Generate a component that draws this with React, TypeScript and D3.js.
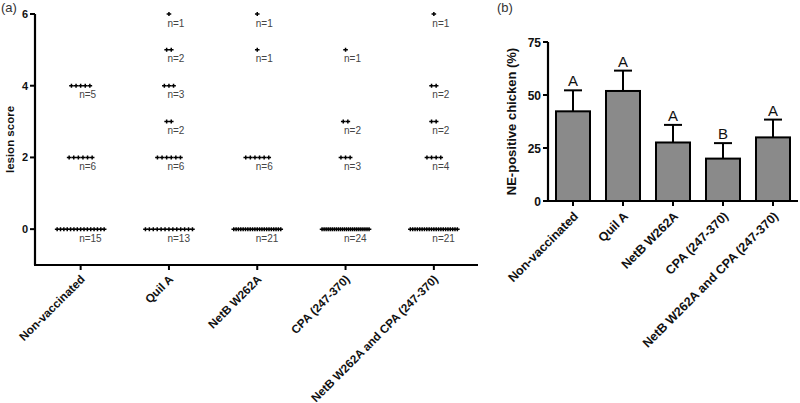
import React from "react";
import * as d3 from "d3";

// ---------- Data ----------
const groups = [
  "Non-vaccinated",
  "Quil A",
  "NetB W262A",
  "CPA (247-370)",
  "NetB W262A and CPA (247-370)",
];

// Lesion score distributions: [score, count] per group
const lesionNonVaccinated: [number, number][] = [[0, 15], [2, 6], [4, 5]];
const lesionQuilA: [number, number][] = [[0, 13], [2, 6], [3, 2], [4, 3], [5, 2], [6, 1]];
const lesionNetB: [number, number][] = [[0, 21], [2, 6], [5, 1], [6, 1]];
const lesionCPA: [number, number][] = [[0, 24], [2, 3], [3, 2], [5, 1]];
const lesionCombined: [number, number][] = [[0, 21], [2, 4], [3, 2], [4, 2], [6, 1]];
const lesionByGroup = [lesionNonVaccinated, lesionQuilA, lesionNetB, lesionCPA, lesionCombined];

const lesionTicks = [0, 2, 4, 6];

// NE-positive percentages and SE
const nePositive = [42.3, 51.9, 27.6, 20.0, 30.0];
const neError = [9.9, 9.6, 8.3, 7.3, 8.4];
const neLetters = ["A", "A", "A", "B", "A"];
const neTicks = [0, 25, 50, 75];

const FONT = "'Liberation Sans', Arial, Helvetica, sans-serif";

export default function App() {
  // Panel (a)
  const xA = d3.scaleBand<string>().domain(groups).range([36.5, 478]).padding(0);
  const yA = d3.scaleLinear().domain([-1, 6]).range([265, 14]);
  const axisYA = yA(-1);

  // Panel (b)
  const xB = d3.scaleBand<string>().domain(groups).range([548, 798]).paddingInner(0.32).paddingOuter(0.16);
  const yB = d3.scaleLinear().domain([0, 75]).range([201, 42]);

  const cross = (cx: number, cy: number, k: string) => (
    <path
      key={k}
      d={`M${cx - 2.3},${cy}H${cx + 2.3}M${cx},${cy - 2}V${cy + 2}`}
      stroke="#000"
      strokeWidth={1.5}
      fill="none"
    />
  );

  return (
    <svg width={800} height={403} style={{ position: "absolute", left: 0, top: 0, background: "#fff" }} fontFamily={FONT}>
      {/* ---------- Panel (a) ---------- */}
      <text x={1} y={12} fontSize={13} fill="#333">(a)</text>
      <text
        transform={`translate(14,${(14 + axisYA) / 2}) rotate(-90)`}
        textAnchor="middle"
        fontSize={11.5}
        fontWeight="bold"
        fill="#111"
      >
        lesion score
      </text>
      {/* axes */}
      <line x1={35} x2={35} y1={14} y2={axisYA} stroke="#000" strokeWidth={2.2} />
      <line x1={34} x2={478} y1={axisYA} y2={axisYA} stroke="#000" strokeWidth={2.2} />
      {lesionTicks.map((t) => (
        <g key={"ya" + t}>
          <line x1={30} x2={35} y1={yA(t)} y2={yA(t)} stroke="#000" strokeWidth={2} />
          <text x={28} y={yA(t) + 4} textAnchor="end" fontSize={11} fontWeight="bold" fill="#111">
            {t}
          </text>
        </g>
      ))}
      {groups.map((g) => {
        const cx = xA(g)! + xA.bandwidth() / 2;
        return (
          <g key={"xa" + g}>
            <line x1={cx} x2={cx} y1={axisYA} y2={axisYA + 5} stroke="#000" strokeWidth={2} />
            <text
              transform={`translate(${cx + 5},${axisYA + 15}) rotate(-45)`}
              textAnchor="end"
              fontSize={11.7}
              fontWeight="bold"
              fill="#111"
            >
              {g}
            </text>
          </g>
        );
      })}
      {/* scatter points */}
      {groups.map((g, gi) => {
        const cx = xA(g)! + xA.bandwidth() / 2;
        return lesionByGroup[gi].map(([score, count]) => {
          const y = yA(score);
          const step = count > 1 ? Math.min(4.6, 47 / (count - 1)) : 0;
          const pts = d3.range(count).map((i) => cx + (i - (count - 1) / 2) * step);
          return (
            <g key={`p${gi}-${score}`}>
              {pts.map((px, i) => cross(px, y, `c${i}`))}
              <text x={cx - 1.5} y={y + 12.5} fontSize={10} fill="#444">
                n={count}
              </text>
            </g>
          );
        });
      })}

      {/* ---------- Panel (b) ---------- */}
      <text x={497} y={12} fontSize={13} fill="#333">(b)</text>
      <text
        transform={`translate(516,${(42 + 201) / 2}) rotate(-90)`}
        textAnchor="middle"
        fontSize={13}
        fontWeight="bold"
        fill="#111"
      >
        NE-positive chicken (%)
      </text>
      {/* bars */}
      {groups.map((g, i) => {
        const x = xB(g)!;
        const w = xB.bandwidth();
        const cx = x + w / 2;
        const top = yB(nePositive[i]);
        const errTop = yB(nePositive[i] + neError[i]);
        return (
          <g key={"b" + g}>
            <line x1={cx} x2={cx} y1={top} y2={errTop} stroke="#000" strokeWidth={2} />
            <line x1={cx - 9} x2={cx + 9} y1={errTop} y2={errTop} stroke="#000" strokeWidth={2} />
            <rect x={x} y={top} width={w} height={yB(0) - top} fill="#8a8a8a" stroke="#000" strokeWidth={2} />
            <text x={cx} y={errTop - 4} textAnchor="middle" fontSize={15} fill="#111">
              {neLetters[i]}
            </text>
          </g>
        );
      })}
      <line x1={548} x2={548} y1={42} y2={201} stroke="#000" strokeWidth={2.2} />
      <line x1={547} x2={798} y1={201} y2={201} stroke="#000" strokeWidth={2.2} />
      {neTicks.map((t) => (
        <g key={"yb" + t}>
          <line x1={543} x2={548} y1={yB(t)} y2={yB(t)} stroke="#000" strokeWidth={2} />
          <text x={541} y={yB(t) + 4.5} textAnchor="end" fontSize={12} fontWeight="bold" fill="#111">
            {t}
          </text>
        </g>
      ))}
      {groups.map((g) => {
        const cx = xB(g)! + xB.bandwidth() / 2;
        return (
          <g key={"xb" + g}>
            <line x1={cx} x2={cx} y1={201} y2={206} stroke="#000" strokeWidth={2} />
            <text
              transform={`translate(${cx + 6},${201 + 16}) rotate(-45)`}
              textAnchor="end"
              fontSize={12.5}
              fontWeight="bold"
              fill="#111"
            >
              {g}
            </text>
          </g>
        );
      })}
    </svg>
  );
}
